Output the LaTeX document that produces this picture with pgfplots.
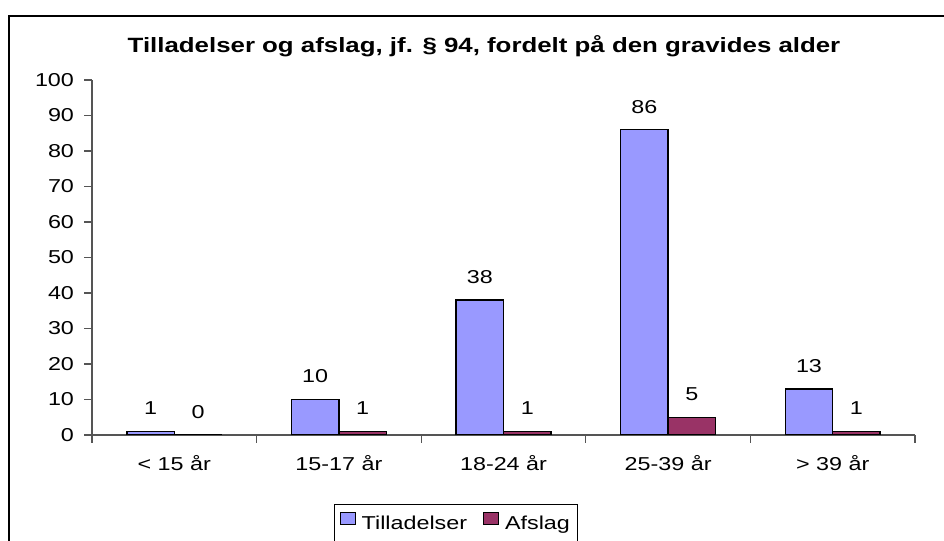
\documentclass[border=0pt]{standalone}
\usepackage{pgfplots}
\pgfplotsset{compat=1.18}
\usepackage{fontspec}
\setmainfont{Liberation Sans}[FakeStretch=1.25]
\definecolor{tblue}{HTML}{9999FF}
\definecolor{tred}{HTML}{993366}
\definecolor{axgray}{HTML}{555555}
\pgfplotstableread{
x til afs
0 1 0
1 10 1
2 38 1
3 86 5
4 13 1
}\datatable
\begin{document}
\begin{tikzpicture}
\begin{axis}[
  at={(69pt,79.5pt)}, anchor=south west,
  scale only axis, width=617.25pt, height=266.25pt,
  /pgf/number format/assume math mode=true,
  xmin=-0.5, xmax=4.5, ymin=0, ymax=100,
  ybar=0pt, bar width=35.6pt,
  axis x line*=bottom, axis y line*=left,
  axis line style={axgray, line width=0.8pt, -},
  ytick={0,10,...,100},
  tick align=outside, major tick length=6pt, minor tick length=6pt,
  tick style={axgray, line width=0.8pt},
  xtick={0,...,4},
  xticklabels={{< 15 år},{15-17 år},{18-24 år},{25-39 år},{> 39 år}},
  major x tick style={draw=none},
  minor xtick={-0.5,0.5,...,4.5},
  minor x tick style={axgray, line width=0.8pt},
  ticklabel style={font=\fontsize{14}{16}\selectfont},
  yticklabel style={xshift=-4pt},
  xticklabel style={yshift=-6pt},
  nodes near coords,
  nodes near coords style={anchor=base, yshift=12.4pt, font=\fontsize{14}{16}\selectfont, text=black},
  legend style={at={(0.294,-0.194)}, anchor=north west, legend columns=2, draw=black, line width=0.8pt,
    font=\fontsize{14}{16}\selectfont, inner xsep=4pt, inner ysep=6pt,
    /tikz/every even column/.append style={column sep=10pt}},
]
\addplot[fill=tblue, draw=black, line width=1.1pt, legend image code/.code={\draw[fill=tblue,draw=black,line width=0.8pt] (0pt,-1pt) rectangle (11.25pt,8pt); \path[draw=none,fill=none] (0pt,0pt) -- (14pt,0pt);}] table[x=x,y=til] {\datatable};
\addplot[fill=tred, draw=black, line width=1.1pt, legend image code/.code={\draw[fill=tred,draw=black,line width=0.8pt] (0pt,-1pt) rectangle (11.25pt,8pt); \path[draw=none,fill=none] (0pt,0pt) -- (14pt,0pt);}] table[x=x,y=afs] {\datatable};
\legend{Tilladelser, Afslag}
\end{axis}
\draw[line width=1.5pt] (6.75pt,393.75pt) rectangle (750pt,-40pt);
\node[anchor=base, font=\fontsize{15.5}{18}\selectfont\bfseries] at (363pt,366pt) {Tilladelser og afslag, jf. \S~94, fordelt på den gravides alder};
\pgfresetboundingbox
\useasboundingbox (0,0) rectangle (708pt,405.75pt);
\end{tikzpicture}
\end{document}
